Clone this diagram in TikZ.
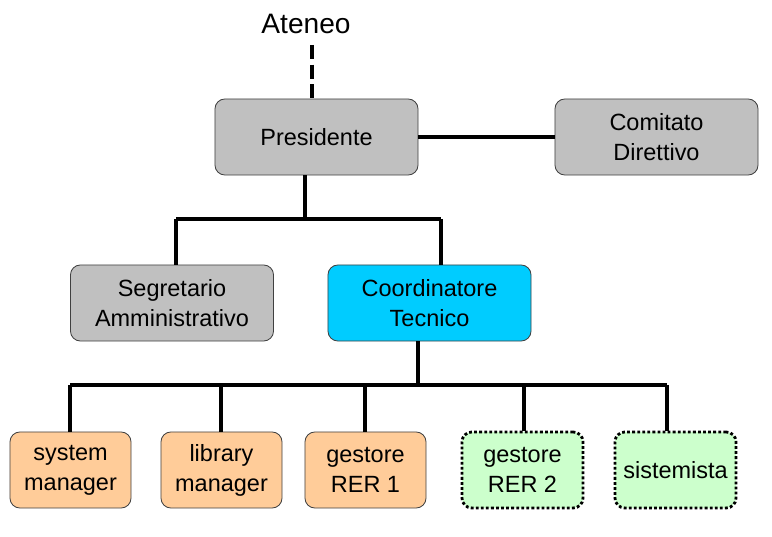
\documentclass[tikz,border=0pt]{standalone}
\usepackage{fontspec}
\setmainfont{Liberation Sans}
\definecolor{boxgrey}{RGB}{192,192,192}
\definecolor{boxcyan}{RGB}{0,204,255}
\definecolor{boxorange}{RGB}{255,204,153}
\definecolor{boxgreen}{RGB}{204,255,204}
\begin{document}
\begin{tikzpicture}[x=0.025cm,y=-0.025cm,
  box/.style={draw=black!75,line width=0.6pt,rounded corners=7pt,align=center,inner sep=0pt,
    font=\fontsize{16.7}{21.3}\selectfont},
  big/.style={box,minimum width=5.075cm,minimum height=1.9cm},
  small/.style={box,minimum width=3.025cm,minimum height=1.9cm,fill=boxorange},
  dots/.style={small,fill=boxgreen,draw=black,line width=2pt,dash pattern=on 2pt off 1.6pt},
  link/.style={line width=2.2pt}]
\useasboundingbox (0,0) rectangle (772,537);

\node[font=\fontsize{20}{24}\selectfont] at (306,24) (ateneo) {Ateneo};
\node[big,fill=boxgrey] at (316.5,137) (pres) {Presidente};
\node[big,fill=boxgrey] at (656.5,137) (comitato) {Comitato\\Direttivo};
\node[big,fill=boxgrey] at (172,303) (segr) {Segretario\\Amministrativo};
\node[big,fill=boxcyan] at (429.5,303) (coord) {Coordinatore\\Tecnico};
\node[small] at (70.5,470) (sysman) {system\\manager};
\node[small] at (221.5,470) (libman) {library\\manager};
\node[small] at (365.5,470) (rer1) {gestore\\RER 1};
\node[dots] at (522.5,470) (rer2) {gestore\\RER 2};
\node[dots] at (675.5,470) (sist) {sistemista};

\coordinate (top) at (312,45);
\coordinate (j1) at (305,219);
\coordinate (j2) at (418,385);

\draw[link,dash pattern=on 10pt off 4pt] (top) -- (top |- pres.north);
\draw[link] (pres) -- (comitato);
\draw[link] (j1 |- pres.south) -- (j1);
\draw[link] (176,219) -- (441,219);
\draw[link] (176,219) -- (176,219 |- segr.north);
\draw[link] (441,219) -- (441,219 |- coord.north);
\draw[link] (j2 |- coord.south) -- (j2);
\draw[link] (70,385) -- (667,385);
\draw[link] (70,385) -- (70,385 |- sysman.north);
\draw[link] (221,385) -- (221,385 |- libman.north);
\draw[link] (365,385) -- (365,385 |- rer1.north);
\draw[link] (524,385) -- (524,385 |- rer2.north);
\draw[link] (667,385) -- (667,385 |- sist.north);
\end{tikzpicture}
\end{document}
